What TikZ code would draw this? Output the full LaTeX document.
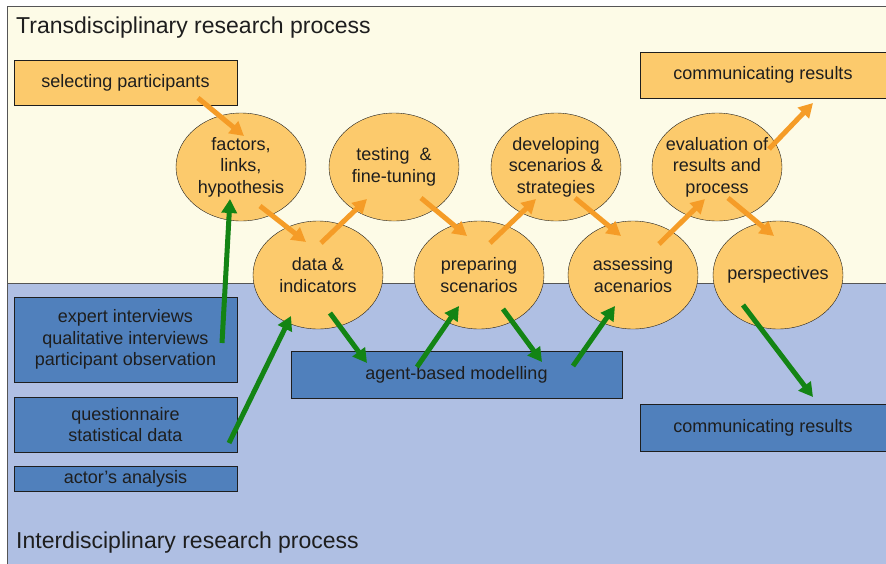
\documentclass[tikz,border=0pt]{standalone}
\usepackage{fontspec}
\setmainfont{Liberation Sans}
\usepackage{tikz}
\usetikzlibrary{arrows.meta,calc,shapes.geometric}
\usepackage{xcolor}
\definecolor{tdback}{HTML}{FDFBE7}
\definecolor{idback}{HTML}{AFBFE3}
\definecolor{tdfill}{HTML}{FCCA6C}
\definecolor{idfill}{HTML}{5080BC}
\definecolor{tdarrowcol}{HTML}{F59C27}
\definecolor{idarrowcol}{HTML}{138414}
\definecolor{framecol}{HTML}{555555}
\definecolor{textcol}{HTML}{1E1E1E}

\begin{document}
\begin{tikzpicture}[
  x=1pt, y=-1pt,
  every node/.style={text=textcol},
  stage/.style={draw=textcol, ellipse, fill=tdfill, minimum width=130pt,
    minimum height=108pt, inner xsep=-20pt, inner ysep=-10pt, align=center,
    font=\fontsize{18}{21.5}\selectfont},
  tdbox/.style={draw=textcol, rectangle, fill=tdfill, inner sep=0pt,
    align=center, font=\fontsize{18}{21.5}\selectfont},
  idbox/.style={draw=textcol, rectangle, fill=idfill, inner sep=0pt,
    align=center, font=\fontsize{18}{21.5}\selectfont},
  heading/.style={anchor=base west, inner sep=0pt, font=\fontsize{23}{27}\selectfont},
  tdarrow/.style={-{Triangle[length=14pt,width=15pt]}, line width=5pt, draw=tdarrowcol},
  idarrow/.style={-{Triangle[length=14pt,width=15pt]}, line width=5pt, draw=idarrowcol}
]
\useasboundingbox (0,0) rectangle (886,563);
\clip (0,0) rectangle (886,563);
\fill[idback] (7,283) rectangle (900,580);
\fill[tdback] (7,6) rectangle (900,283);
\draw[framecol, line width=1pt] (7,580) -- (7,6) -- (900,6);
\draw[framecol, line width=0.8pt] (7,283) -- (900,283);

\node[heading] (tdtitle) at (16,33) {Transdisciplinary research process};
\node[heading] (idtitle) at (16,548) {Interdisciplinary research process};

\node[tdbox, minimum width=223pt, minimum height=45pt] (select) at (125.5,82.5) {selecting participants};
\node[tdbox, minimum width=246pt, minimum height=46pt] (comtop) at (763,75) {communicating results};

\node[stage] (factors) at (241,167) {factors,\\links,\\hypothesis};
\node[stage] (testing) at (394,167) {testing \ \&\\fine-tuning};
\node[stage] (developing) at (556,167) {developing\\scenarios \&\\strategies};
\node[stage] (evaluation) at (717,167) {evaluation of\\results and\\process};
\node[stage] (data) at (318,275) {data \&\\indicators};
\node[stage] (preparing) at (479,275) {preparing\\scenarios};
\node[stage] (assessing) at (633,275) {assessing\\acenarios};
\node[stage] (perspectives) at (778,275) {perspectives};

\node[idbox, minimum width=223pt, minimum height=85pt] (expert) at (125.5,339.5) {expert interviews\\qualitative interviews\\participant observation};
\node[idbox, minimum width=223pt, minimum height=55pt] (quest) at (125.5,424.5) {questionnaire\\statistical data};
\node[idbox, minimum width=223pt, minimum height=25pt] (actor) at (125.5,478.5) {actor's analysis};
\node[idbox, minimum width=331pt, minimum height=47pt] (abm) at (456.5,374.5) {agent-based modelling};
\node[idbox, minimum width=246pt, minimum height=47pt] (combot) at (763,427.5) {communicating results};

\draw[tdarrow] ($(select)+(72.5,15.5)$) -- ($(factors)+(3,-31)$);
\draw[tdarrow] ($(factors)+(19,39)$) -- ($(data)+(-12,-33)$);
\draw[tdarrow] ($(data)+(3,-32)$) -- ($(testing)+(-27,32)$);
\draw[tdarrow] ($(testing)+(27,31)$) -- ($(preparing)+(-12,-39)$);
\draw[tdarrow] ($(preparing)+(11,-32)$) -- ($(developing)+(-20,32)$);
\draw[tdarrow] ($(developing)+(19,31)$) -- ($(assessing)+(-12,-39)$);
\draw[tdarrow] ($(assessing)+(26,-31)$) -- ($(evaluation)+(-12,32)$);
\draw[tdarrow] ($(evaluation)+(11,31)$) -- ($(perspectives)+(-4,-39)$);
\draw[tdarrow] ($(evaluation)+(52,-18)$) -- ($(comtop)+(50,28)$);

\draw[idarrow] ($(expert)+(96.5,3.5)$) -- ($(factors)+(-11,32)$);
\draw[idarrow] ($(quest)+(103.5,18.5)$) -- ($(data)+(-27,41)$);
\draw[idarrow] ($(data)+(12,38)$) -- ($(abm)+(-89.5,-11.5)$);
\draw[idarrow] ($(abm)+(-39.5,-7.5)$) -- ($(preparing)+(-20,31)$);
\draw[idarrow] ($(preparing)+(24,34)$) -- ($(abm)+(85.5,-12.5)$);
\draw[idarrow] ($(abm)+(116.5,-8.5)$) -- ($(assessing)+(-18,31)$);
\draw[idarrow] ($(perspectives)+(-35,30)$) -- ($(combot)+(50,-30.5)$);
\end{tikzpicture}
\end{document}
